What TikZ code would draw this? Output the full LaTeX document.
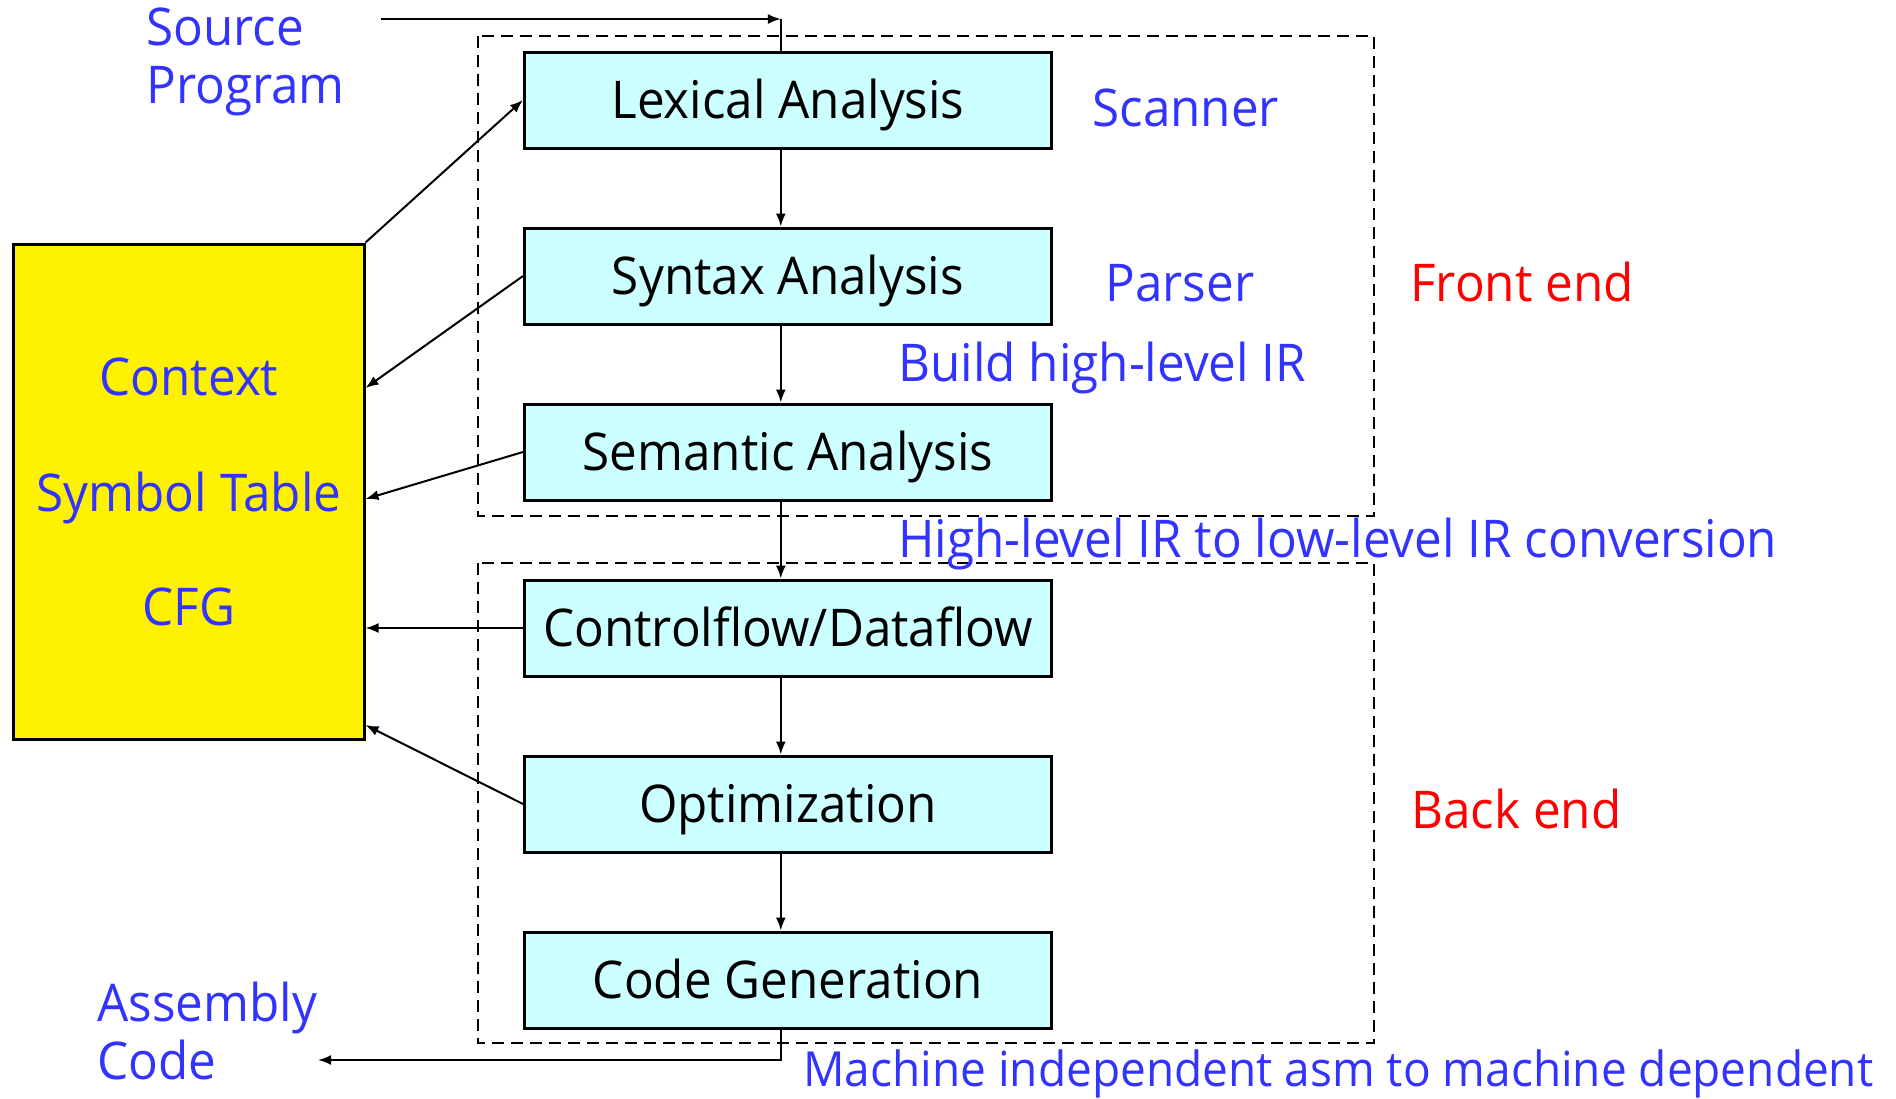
\documentclass[tikz,border=0pt]{standalone}
\usepackage{fontspec}
\setmainfont[FakeStretch=0.95]{Open Sans}
\usetikzlibrary{arrows.meta}
\definecolor{noteblue}{RGB}{51,51,255}
\definecolor{phasecyan}{RGB}{204,255,255}
\tikzset{
  phase/.style={draw=black, line width=1.5pt, fill=phasecyan, minimum width=263.5pt, minimum height=48pt, font=\fontsize{26}{29}\selectfont, text height=24pt, text depth=5.4pt},
  note/.style={text=noteblue, anchor=west, align=left, inner sep=0pt, font=\fontsize{26}{29}\selectfont, text height=24pt, text depth=5.4pt},
  flow/.style={line width=1pt, -{Latex[length=6.5pt,width=5pt]}},
  region/.style={dash pattern=on 6pt off 3.5pt, line width=0.9pt}
}
\begin{document}
\begin{tikzpicture}[x=0.5pt,y=-0.5pt]
	\useasboundingbox (0,0) rectangle (1896,1098);
	% Front end / back end regions
	\draw [region] (478,36) rectangle (1374,516);
	\draw [region] (478,563) rectangle (1374,1043);
	% Compiler phases
	\node [phase] (lex) at (788,100) {Lexical Analysis};
	\node [phase] (syn) at (788,276) {Syntax Analysis};
	\node [phase] (sem) at (788,452) {Semantic Analysis};
	\node [phase] (cfd) at (788,628) {Controlflow/Dataflow};
	\node [phase] (opt) at (788,804) {Optimization};
	\node [phase] (gen) at (788,980) {Code Generation};
	% Shared context
	\node [draw=black, line width=1.5pt, fill=yellow, minimum width=175.5pt, minimum height=247.5pt] (ctx) at (188.5,491.5) {};
	\node [note, anchor=center] (ctxa) at (189,377) {Context};
	\node [note, anchor=center] (ctxb) at (189,493) {Symbol Table};
	\node [note, anchor=center] (ctxc) at (189,607) {CFG};
	% Labels
	\node [note] (srcl) at (146,85) {Source\\Program};
	\node [note] (asml) at (97,1061) {Assembly\\Code};
	\node [note] (scan) at (1092,108) {Scanner};
	\node [note] (pars) at (1105,283) {Parser};
	\node [note] (hir) at (898,363) {Build high-level IR};
	\node [note] (lir) at (898,539) {High-level IR to low-level IR conversion};
	\node [note, font=\fontsize{24.2}{29}\selectfont] (mach) at (803,1068) {Machine independent asm to machine dependent};
	\node [note, text=red] (fe) at (1410,283) {Front end};
	\node [note, text=red] (be) at (1411,810) {Back end};
	% Input and output
	\coordinate (src) at (381,19);
	\coordinate (asm) at (318,1060);
	\draw [flow] (src) -- ([xshift=-3.6pt]lex.north |- src);
	\draw [line width=1pt] ([xshift=-3.6pt]lex.north |- src) -- ([xshift=-3.6pt]lex.north);
	\draw [flow] ([xshift=-3.6pt]gen.south) -- ([xshift=-3.6pt]gen.south |- asm) -- (asm);
	% Phase to phase
	\draw [flow] ([xshift=-3.6pt]lex.south) -- ([xshift=-3.6pt]syn.north);
	\draw [flow] ([xshift=-3.6pt]syn.south) -- ([xshift=-3.6pt]sem.north);
	\draw [flow] ([xshift=-3.6pt]sem.south) -- ([xshift=-3.6pt]cfd.north);
	\draw [flow] ([xshift=-3.6pt]cfd.south) -- ([xshift=-3.6pt]opt.north);
	\draw [flow] ([xshift=-3.6pt]opt.south) -- ([xshift=-3.6pt]gen.north);
	% Context links
	\draw [flow] (ctx.north east) -- (lex.west);
	\draw [flow] (syn.west) -- ([yshift=51.75pt]ctx.east);
	\draw [flow] (sem.west) -- ([yshift=-3.75pt]ctx.east);
	\draw [flow] (cfd.west) -- (cfd.west -| ctx.east);
	\draw [flow] (opt.west) -- ([yshift=-116.75pt]ctx.east);
\end{tikzpicture}
\end{document}
